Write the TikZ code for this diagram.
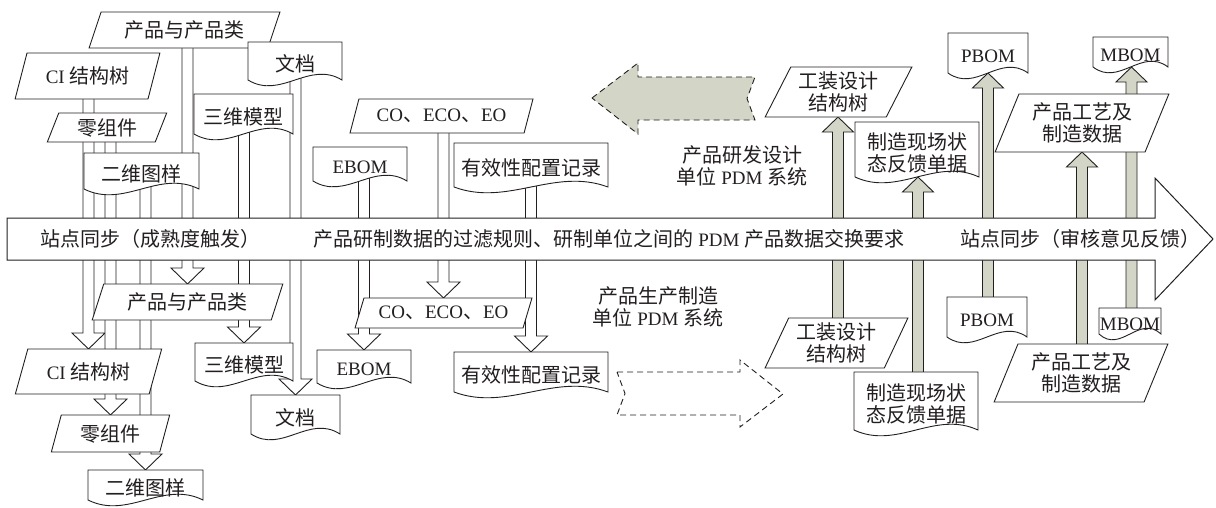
\documentclass[tikz,border=0pt]{standalone}
\usepackage{fontspec}
\setmainfont{Noto Sans CJK SC}
\newfontfamily\lat{Liberation Serif}[Scale=0.95]
\usetikzlibrary{shapes.geometric,calc}
\pgfdeclarelayer{bg}
\pgfsetlayers{bg,main}
\definecolor{shade}{RGB}{211,214,198}
\definecolor{ink}{RGB}{35,31,32}
\makeatletter
\newdimen\dkxa \newdimen\dkxb \newdimen\dkya \newdimen\dkyb
\newdimen\dkxc \newdimen\dkyc \newdimen\dkxl \newdimen\dkxr
\newdimen\dkyu \newdimen\dkyd
\pgfdeclareshape{docu}{%
  \inheritsavedanchors[from=rectangle]%
  \inheritanchorborder[from=rectangle]%
  \inheritanchor[from=rectangle]{center}%
  \inheritanchor[from=rectangle]{north}%
  \inheritanchor[from=rectangle]{east}%
  \inheritanchor[from=rectangle]{west}%
  \inheritanchor[from=rectangle]{north east}%
  \inheritanchor[from=rectangle]{north west}%
  \inheritanchor[from=rectangle]{south east}%
  \inheritanchor[from=rectangle]{south west}%
  \anchor{south}{%
    \southwest \dkxa=\pgf@x \dkya=\pgf@y
    \northeast
    \advance\pgf@x by \dkxa \pgf@x=0.5\pgf@x
    \pgf@y=\dkya \advance\pgf@y by 6pt}%
  \backgroundpath{%
    \southwest \dkxa=\pgf@x \dkya=\pgf@y
    \northeast \dkxb=\pgf@x \dkyb=\pgf@y
    \dkxc=\dkxb \advance\dkxc by -\dkxa \dkxc=0.35\dkxc
    \dkyc=\dkya \advance\dkyc by 6pt
    \dkxl=\dkxa \advance\dkxl by \dkxc
    \dkxr=\dkxb \advance\dkxr by -\dkxc
    \dkyu=\dkyc \advance\dkyu by 20pt
    \dkyd=\dkyc \advance\dkyd by -20pt
    \pgfpathmoveto{\pgfqpoint{\dkxa}{\dkyb}}%
    \pgfpathlineto{\pgfqpoint{\dkxb}{\dkyb}}%
    \pgfpathlineto{\pgfqpoint{\dkxb}{\dkyc}}%
    \pgfpathcurveto{\pgfqpoint{\dkxr}{\dkyu}}{\pgfqpoint{\dkxl}{\dkyd}}{\pgfqpoint{\dkxa}{\dkyc}}%
    \pgfpathclose}%
}
\makeatother
\tikzset{
  base/.style={font=\fontsize{20}{22}\selectfont, text=ink, inner sep=0pt, outer sep=0pt, align=center},
  para/.style={base, trapezium, trapezium left angle=#1, trapezium right angle={180-#1},
    trapezium stretches=true, draw=ink, fill=white, line width=0.9pt},
  para/.default=65,
  docbox/.style={base, shape=docu, draw=ink, fill=white, line width=0.9pt},
  hollow/.style={draw=ink, fill=white, line width=0.9pt},
  shadearr/.style={draw=ink, fill=shade, line width=0.9pt},
  bandtxt/.style={font=\fontsize{20}{22}\selectfont, text=ink, inner sep=0pt},
  dasharr/.style={draw=ink, dash pattern=on 6pt off 4pt, line width=0.9pt},
}
\newcommand\hdown[2]{%
  \draw[hollow] let \p1=(#1.center), \p2=(#2.north) in
    (\x2-5.5pt,\y1) -- (\x2-5.5pt,\y2+16pt) -- (\x2-16.5pt,\y2+16pt) -- (\x2,\y2)
    -- (\x2+16.5pt,\y2+16pt) -- (\x2+5.5pt,\y2+16pt) -- (\x2+5.5pt,\y1) -- cycle;}
\newcommand\hup[3]{%
  \draw[shadearr] let \p1=(#1.center), \p2=(#2.south) in
    (\x2+#3pt-5.5pt,\y1) -- (\x2+#3pt-5.5pt,\y2-15pt) -- (\x2+#3pt-15.5pt,\y2-15pt) -- (\x2+#3pt,\y2)
    -- (\x2+#3pt+15.5pt,\y2-15pt) -- (\x2+#3pt+5.5pt,\y2-15pt) -- (\x2+#3pt+5.5pt,\y1) -- cycle;}
\begin{document}
\begin{tikzpicture}[x=1pt,y=-1pt]
\useasboundingbox (0,0) rectangle (1216,507);

% main band arrow
\draw[draw=ink, fill=white, line width=1pt] (7,218) -- (1155,218) -- (1155,178) -- (1213,239)
  -- (1155,300) -- (1155,260) -- (7,260) -- cycle;
\node[bandtxt] (bt1) at (150,239) {站点同步（成熟度触发）};
\node[bandtxt] (bt2) at (609,239) {产品研制数据的过滤规则、研制单位之间的 {\lat PDM} 产品数据交换要求};
\node[bandtxt] (bt3) at (1080,239) {站点同步（审核意见反馈）};

% upper left (design side)
\node[para=65, minimum width=191pt, minimum height=36pt] (pc1) at (184.5,30) {产品与产品类};
\node[para=66, minimum width=145pt, minimum height=46pt] (ci1) at (87.5,76) {{\lat CI} 结构树};
\node[para=69, minimum width=120pt, minimum height=29pt] (lz1) at (107,127.5) {零组件};
\node[docbox, minimum width=115pt, minimum height=42pt] (ew1) at (141.5,174) {二维图样};
\node[docbox, minimum width=99pt, minimum height=46pt] (sw1) at (243.5,117) {三维模型};
\node[docbox, minimum width=94pt, minimum height=44pt] (wd1) at (295,64) {文档};
\node[docbox, minimum width=94pt, minimum height=40pt] (eb1) at (360,167) {{\lat EBOM}};
\node[para=63, minimum width=183pt, minimum height=34pt] (co1) at (441.5,116) {{\lat CO}、{\lat ECO}、{\lat EO}};
\node[docbox, minimum width=154pt, minimum height=50pt] (yx1) at (531,168) {有效性配置记录};

% lower left (production side)
\node[para=66, minimum width=191pt, minimum height=36pt] (pc2) at (187.5,302) {产品与产品类};
\node[para=65, minimum width=147pt, minimum height=45pt] (ci2) at (88.5,371.5) {{\lat CI} 结构树};
\node[para=72, minimum width=119pt, minimum height=37pt] (lz2) at (110.5,433.5) {零组件};
\node[docbox, minimum width=115pt, minimum height=36pt] (ew2) at (145.5,488) {二维图样};
\node[docbox, minimum width=98pt, minimum height=44pt] (sw2) at (244,365) {三维模型};
\node[docbox, minimum width=89pt, minimum height=45pt] (wd2) at (295.5,417.5) {文档};
\node[docbox, minimum width=94pt, minimum height=39pt] (eb2) at (364,369.5) {{\lat EBOM}};
\node[para=62, minimum width=177pt, minimum height=30pt] (co2) at (443.5,313) {{\lat CO}、{\lat ECO}、{\lat EO}};
\node[docbox, minimum width=154pt, minimum height=46pt] (yx2) at (531,375) {有效性配置记录};

% right upper
\node[para=62, minimum width=147pt, minimum height=50pt] (gz1) at (838.5,92) {工装设计\\结构树};
\node[docbox, minimum width=124pt, minimum height=61pt] (zz1) at (917,152.5) {制造现场状\\态反馈单据};
\node[docbox, minimum width=80pt, minimum height=46pt] (pb1) at (988,56) {{\lat PBOM}};
\node[docbox, minimum width=75pt, minimum height=36pt] (mb1) at (1130.5,55) {{\lat MBOM}};
\node[para=65, minimum width=174pt, minimum height=58pt] (gy1) at (1082,123) {产品工艺及\\制造数据};

% right lower
\node[para=64, minimum width=143pt, minimum height=50pt] (gz2) at (836.5,343) {工装设计\\结构树};
\node[docbox, minimum width=124pt, minimum height=64pt] (zz2) at (916,404) {制造现场状\\态反馈单据};
\node[docbox, minimum width=80pt, minimum height=46pt] (pb2) at (987,320) {{\lat PBOM}};
\node[para=65, minimum width=174pt, minimum height=58pt] (gy2) at (1081,373) {产品工艺及\\制造数据};
\node[docbox, minimum width=62pt, minimum height=32pt] (mb2) at (1130,324) {{\lat MBOM}};

% labels
\node[base] (lbl1) at (742,166) {产品研发设计\\单位 {\lat PDM} 系统};
\node[base] (lbl2) at (658,307) {产品生产制造\\单位 {\lat PDM} 系统};

% big dashed arrows
\draw[dasharr, fill=shade] (592,98) -- (638,63) -- (638,77) -- (755,77) -- (747,98.5)
  -- (755,120) -- (638,120) -- (638,134) -- cycle;
\draw[dasharr] (617,372) -- (740,372) -- (740,360) -- (783,394) -- (740,427) -- (740,415)
  -- (617,415) -- (625,393.5) -- cycle;

% connectors
\begin{pgfonlayer}{bg}
\hdown{ci1}{ci2}
\hdown{lz1}{lz2}
\hdown{ew1}{ew2}
\hdown{pc1}{pc2}
\hdown{sw1}{sw2}
\hdown{wd1}{wd2}
\hdown{eb1}{eb2}
\hdown{co1}{co2}
\hdown{yx1}{yx2}
\hup{gz2}{gz1}{-0.5}
\hup{zz2}{zz1}{1}
\hup{pb2}{pb1}{0}
\hup{gy2}{gy1}{0}
\hup{mb2}{mb1}{1}
\end{pgfonlayer}
\end{tikzpicture}
\end{document}
